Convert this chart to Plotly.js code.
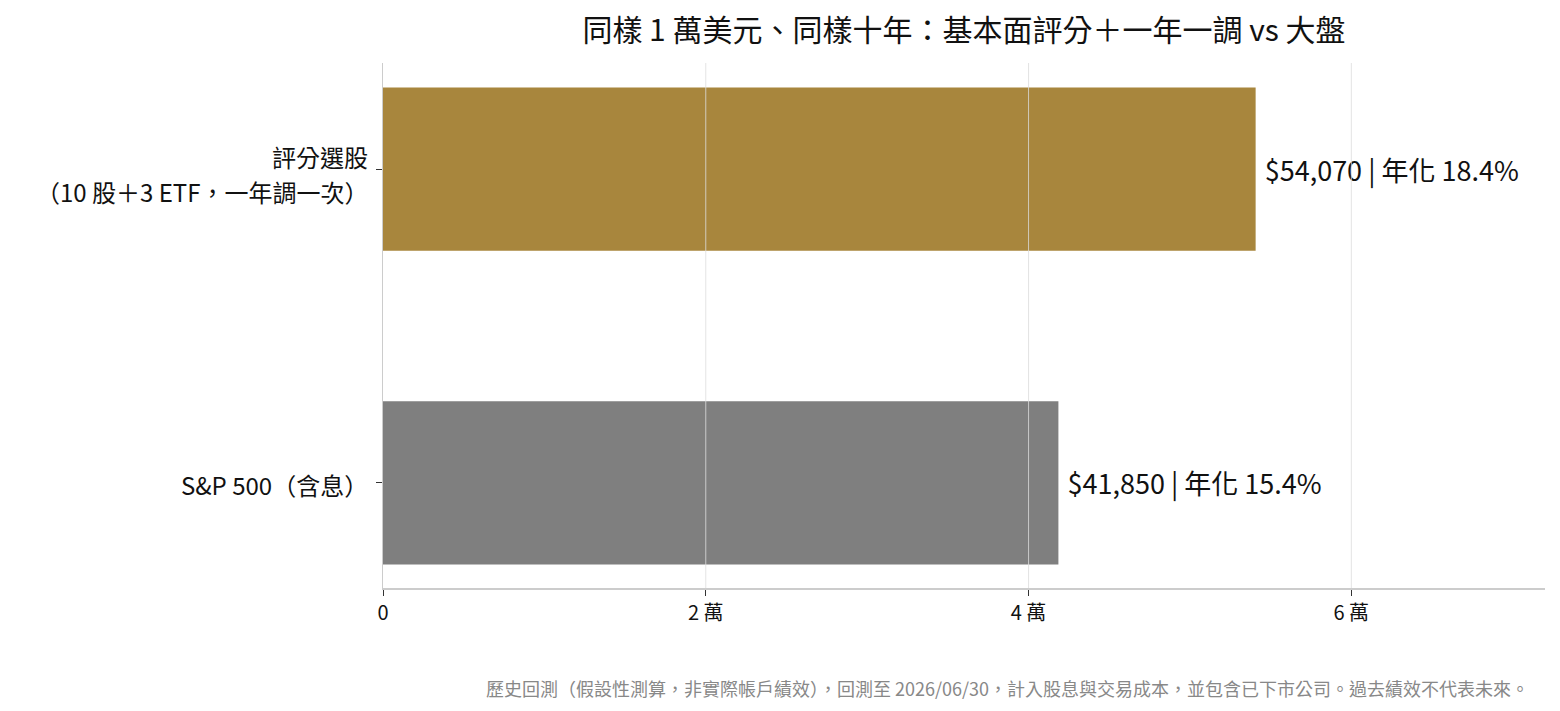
<!DOCTYPE html>
<html>
<head>
<meta charset="utf-8">
<script src="https://cdn.plot.ly/plotly-3.0.1.min.js"></script>
<style>
  html, body { margin: 0; padding: 0; background: #fff; }
  #chart { width: 1560px; height: 711px; }
</style>
</head>
<body>
<div id="chart"></div>
<script>
var categories = ['S&P 500', '評分選股'];
var categoryLines = [['S&P 500（含息）'], ['評分選股', '（10 股＋3 ETF，一年調一次）']];
var endValues = [41850, 54070];
var cagrLabels = ['15.4%', '18.4%'];
var barColors = ['#7f7f7f', '#a8863d'];
var tickValues = [0, 20000, 40000, 60000];
var tickLabels = ['0', '2 萬', '4 萬', '6 萬'];
var footnote = '歷史回測（假設性測算，非實際帳戶績效），回測至 2026/06/30，計入股息與交易成本，並包含已下市公司。過去績效不代表未來。';

var FONT = '"Noto Sans CJK TC", "Noto Sans", sans-serif';
var LABEL_SIZE = 24;
var LINE_GAP = 35;

function money(v)
{
    return '$' + v.toLocaleString('en-US');
}

var labels = [];
for (let i = 0; i < endValues.length; i++) {
    labels.push('\u00a0' + money(endValues[i]) + '\u00a0|\u00a0年化\u00a0' + cagrLabels[i]);
}

// grid lines sit on top of the bars in the original
var gridShapes = [];
for (let i = 1; i < tickValues.length; i++) {
    gridShapes.push({
        type: 'line', layer: 'above',
        xref: 'x', yref: 'paper',
        x0: tickValues[i], x1: tickValues[i], y0: 0, y1: 1,
        line: {color: 'rgba(220,220,220,0.8)', width: 1}
    });
}

// category labels: one annotation per line so the lines do not collide
var notes = [];
for (let i = 0; i < categories.length; i++) {
    var lines = categoryLines[i];
    var n = lines.length;
    for (let j = 0; j < n; j++) {
        var offset = n == 1 ? -2 : ((n - 1) / 2 - j) * LINE_GAP - 4.5;
        notes.push({
            text: lines[j],
            xref: 'paper', yref: 'y',
            x: 0, y: categories[i],
            xanchor: 'right', yanchor: 'middle',
            xshift: -13, yshift: offset,
            showarrow: false,
            font: {family: FONT, size: LABEL_SIZE, color: '#111'}
        });
    }
}

notes.push({
    text: footnote,
    xref: 'paper', yref: 'paper',
    x: 1, y: 0, xanchor: 'right', yanchor: 'middle',
    xshift: -14, yshift: -100,
    showarrow: false,
    font: {family: FONT, size: 18, color: '#888'}
});

Plotly.newPlot('chart', [{
    type: 'bar',
    orientation: 'h',
    x: endValues,
    y: categories,
    width: 0.52,
    marker: {color: barColors},
    text: labels,
    textposition: 'outside',
    textfont: {family: FONT, size: 27, color: '#111'},
    cliponaxis: false,
    hoverinfo: 'skip'
}], {
    width: 1560,
    height: 711,
    margin: {l: 383, r: 15, t: 63, b: 123},
    paper_bgcolor: '#fff',
    plot_bgcolor: '#fff',
    font: {family: FONT, color: '#111'},
    showlegend: false,
    title: {
        text: '同樣 1 萬美元、同樣十年：基本面評分＋一年一調 vs 大盤',
        font: {family: FONT, size: 30, color: '#111'},
        x: 0.5, xref: 'paper', xanchor: 'center',
        y: 0.957, yanchor: 'middle'
    },
    xaxis: {
        range: [0, 72000],
        tickvals: tickValues,
        ticktext: tickLabels,
        tickfont: {family: FONT, size: 20, color: '#111'},
        ticks: 'outside', ticklen: 6, tickcolor: '#333',
        showgrid: false,
        zeroline: false,
        showline: true, linecolor: '#cccccc', linewidth: 2
    },
    yaxis: {
        type: 'category',
        categoryorder: 'array',
        categoryarray: categories,
        range: [-0.335, 1.338],
        showticklabels: false,
        ticks: 'outside', ticklen: 6, tickcolor: '#333',
        showgrid: false,
        zeroline: false,
        showline: true, linecolor: '#cccccc', linewidth: 1
    },
    shapes: gridShapes,
    annotations: notes
}, {displayModeBar: false, staticPlot: true});
</script>
</body>
</html>
